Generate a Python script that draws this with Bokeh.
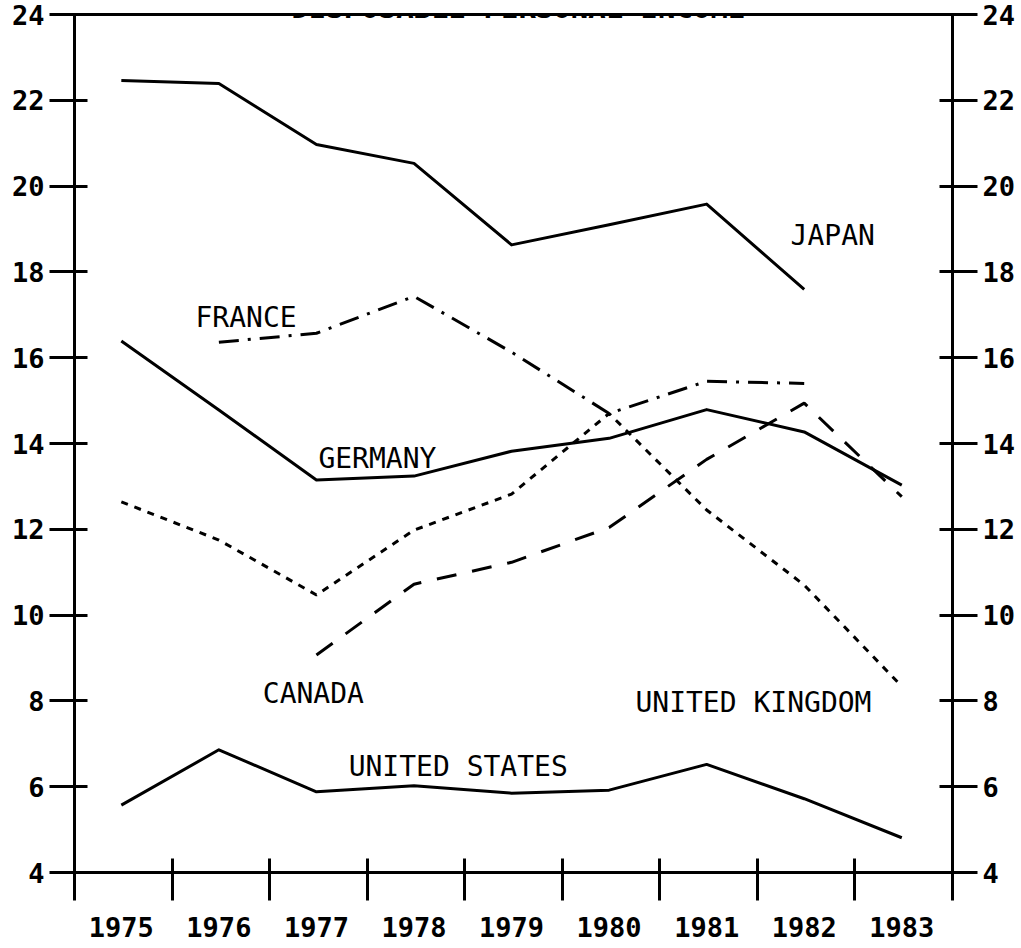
from bokeh.plotting import figure
from bokeh.models import LinearAxis, FixedTicker, Range1d, Label
from bokeh.embed import file_html
from bokeh.resources import INLINE

# ---- data (percent of disposable personal income) ----
years = [1975, 1976, 1977, 1978, 1979, 1980, 1981, 1982, 1983]

japan_years = [1975, 1976, 1977, 1978, 1979, 1980, 1981, 1982]
japan = [22.46, 22.39, 20.97, 20.53, 18.63, 19.10, 19.58, 17.59]

france_years = [1976, 1977, 1978, 1979, 1980, 1981, 1982]
france = [16.36, 16.57, 17.43, 16.13, 14.70, 15.45, 15.40]

germany = [16.39, 14.78, 13.15, 13.24, 13.82, 14.12, 14.79, 14.27, 13.03]

uk = [12.64, 11.75, 10.47, 11.98, 12.82, 14.70, 12.45, 10.70, 8.34]

canada_years = [1977, 1978, 1979, 1980, 1981, 1982, 1983]
canada = [9.07, 10.72, 11.23, 12.04, 13.63, 14.94, 12.76]

us = [5.57, 6.86, 5.88, 6.02, 5.85, 5.92, 6.52, 5.72, 4.81]

y_ticks = [4, 6, 8, 10, 12, 14, 16, 18, 20, 22, 24]
title_text = "DISPOSABLE PERSONAL INCOME"

FONT = "DejaVu Sans Mono"

x_start = years[0] - 0.48
x_end = years[-1] + 0.52
bounds = [x_start + i for i in range(len(years))] + [x_end]

p = figure(width=1021, height=948,
           x_range=Range1d(x_start, x_end), y_range=Range1d(4, 24),
           output_backend="svg", toolbar_location=None,
           x_axis_location=None, y_axis_location=None,
           min_border_left=74, min_border_right=69,
           min_border_top=14, min_border_bottom=76)
p.grid.grid_line_color = None
p.background_fill_color = "white"
p.border_fill_color = "white"
p.outline_line_color = "black"
p.outline_line_width = 3


def style_axis(ax):
    ax.axis_line_width = 3
    ax.axis_line_color = "black"
    ax.major_tick_line_width = 3
    ax.minor_tick_line_width = 3
    ax.major_label_text_font = FONT
    ax.major_label_text_font_style = "bold"
    ax.major_label_text_font_size = "27px"
    ax.major_label_text_color = "black"


for side in ("left", "right"):
    ax = LinearAxis(ticker=FixedTicker(ticks=y_ticks))
    style_axis(ax)
    ax.major_tick_in = 13
    ax.major_tick_out = 25
    ax.minor_tick_in = 0
    ax.minor_tick_out = 0
    ax.major_label_standoff = 5
    p.add_layout(ax, side)

xax = LinearAxis(ticker=FixedTicker(ticks=years, minor_ticks=bounds))
style_axis(xax)
xax.major_tick_in = 0
xax.major_tick_out = 0
xax.minor_tick_in = 14
xax.minor_tick_out = 28
xax.major_label_standoff = 16
p.add_layout(xax, "below")

LW = 3
p.line(japan_years, japan, line_width=LW, color="black", line_join="round")
p.line(years, germany, line_width=LW, color="black", line_join="round")
p.line(years, us, line_width=LW, color="black", line_join="round")
p.line(france_years, france, line_width=LW, color="black",
       line_dash="20 9 3 9", line_join="round")
p.line(years, uk, line_width=LW, color="black", line_dash="7 7")
p.line(canada_years, canada, line_width=LW, color="black", line_dash="20 16")

labels = [
    ("JAPAN", 1981.86, 18.85),
    ("FRANCE", 1975.76, 16.94),
    ("GERMANY", 1977.02, 13.65),
    ("CANADA", 1976.45, 8.17),
    ("UNITED STATES", 1977.33, 6.47),
    ("UNITED KINGDOM", 1980.27, 7.96),
]
for txt, lx, ly in labels:
    p.add_layout(Label(x=lx, y=ly, text=txt, text_font=FONT,
                       text_font_size="28px", text_color="black",
                       text_align="left", text_baseline="alphabetic"))

p.add_layout(Label(x=1979.07, y=24.14, text=title_text, text_font=FONT,
                   text_font_size="29px", text_font_style="bold",
                   text_color="black", text_align="center",
                   text_baseline="alphabetic"))

open("out.html", "w").write(file_html(p, INLINE))
